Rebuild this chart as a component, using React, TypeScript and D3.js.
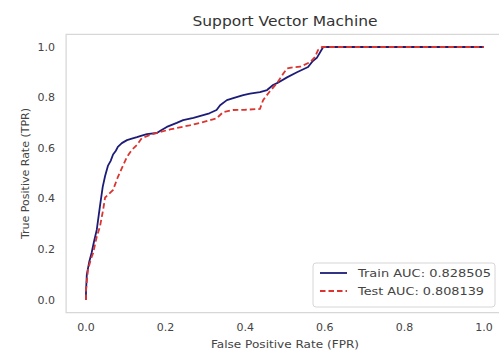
import * as d3 from 'd3'

const title = 'Support Vector Machine'
const xLabel = 'False Positive Rate (FPR)'
const yLabel = 'True Positive Rate (TPR)'
const ticks = [0, 0.2, 0.4, 0.6, 0.8, 1.0]

// [fpr, tpr]
const trainRoc: [number, number][] = [
  [0, 0], [0, 0.03], [0.002, 0.1], [0.008, 0.15], [0.014, 0.186], [0.02, 0.23], [0.027, 0.277],
  [0.035, 0.37], [0.042, 0.447], [0.048, 0.49], [0.055, 0.53], [0.062, 0.55], [0.068, 0.575],
  [0.075, 0.59], [0.08, 0.605], [0.09, 0.62], [0.103, 0.632], [0.115, 0.638], [0.128, 0.644],
  [0.14, 0.65], [0.153, 0.656], [0.178, 0.66], [0.19, 0.672], [0.203, 0.684], [0.228, 0.7],
  [0.244, 0.711], [0.27, 0.72], [0.31, 0.738], [0.328, 0.751], [0.337, 0.77], [0.354, 0.79],
  [0.37, 0.798], [0.395, 0.81], [0.412, 0.816], [0.437, 0.822], [0.455, 0.83], [0.47, 0.85],
  [0.48, 0.857], [0.505, 0.88], [0.53, 0.9], [0.558, 0.921], [0.57, 0.945], [0.58, 0.957],
  [0.596, 1.0], [1.0, 1.0],
]
const testRoc: [number, number][] = [
  [0, 0], [0, 0.04], [0.005, 0.12], [0.012, 0.16], [0.018, 0.186], [0.027, 0.25], [0.035, 0.29],
  [0.043, 0.356], [0.048, 0.405], [0.058, 0.42], [0.068, 0.435], [0.08, 0.486], [0.094, 0.535],
  [0.103, 0.566], [0.115, 0.593], [0.128, 0.613], [0.14, 0.64], [0.16, 0.652], [0.186, 0.664],
  [0.211, 0.674], [0.228, 0.68], [0.26, 0.69], [0.286, 0.7], [0.328, 0.718], [0.345, 0.743],
  [0.37, 0.751], [0.4, 0.752], [0.437, 0.755], [0.445, 0.79], [0.462, 0.825], [0.48, 0.857],
  [0.495, 0.893], [0.505, 0.915], [0.52, 0.92], [0.538, 0.922], [0.563, 0.94], [0.575, 0.96],
  [0.583, 0.988], [0.593, 1.0], [1.0, 1.0],
]
const legendLabels = ['Train AUC: 0.828505', 'Test AUC: 0.808139']

const W = 499
const H = 354
const font = 'DejaVu Sans, sans-serif'
const textColor = '#444'
const trainColor = '#1c1c78'
const testColor = '#dc3530'

const App = () => {
  const x = d3.scaleLinear().domain([0, 1]).range([86, 484])
  const y = d3.scaleLinear().domain([0, 1]).range([300, 47])
  const line = d3.line<[number, number]>().x(d => x(d[0])).y(d => y(d[1]))

  const fx0 = x(-0.05), fx1 = x(1.05)
  const fy0 = y(1.05), fy1 = y(-0.05)
  const cx = (fx0 + fx1) / 2

  // legend box
  const lx = 313, ly = 263, lw = 182, lh = 44

  return (
    <svg width={W} height={H} style={{ position: 'absolute', left: 0, top: 0, background: '#fff' }} fontFamily={font}>
      <rect x={fx0} y={fy0} width={fx1 - fx0} height={fy1 - fy0} fill="#fff" stroke="#d6d6d6" strokeWidth={1.2} />

      <path d={line(trainRoc) ?? ''} fill="none" stroke={trainColor} strokeWidth={1.8} strokeLinejoin="round" />
      <path d={line(testRoc) ?? ''} fill="none" stroke={testColor} strokeWidth={1.8} strokeDasharray="5.5,3" />

      {ticks.map(t => (
        <text key={`x${t}`} x={x(t)} y={331} textAnchor="middle" fontSize={11} fill={textColor}>{t.toFixed(1)}</text>
      ))}
      {ticks.map(t => (
        <text key={`y${t}`} x={55} y={y(t)} textAnchor="end" dominantBaseline="central" fontSize={11} fill={textColor}>{t.toFixed(1)}</text>
      ))}

      <text x={cx} y={26} textAnchor="middle" fontSize={14} fill="#333" textLength={185} lengthAdjust="spacingAndGlyphs">{title}</text>
      <text x={cx} y={348} textAnchor="middle" fontSize={11} fill={textColor} textLength={148} lengthAdjust="spacingAndGlyphs">{xLabel}</text>
      <text transform={`translate(29,${(fy0 + fy1) / 2}) rotate(-90)`} textAnchor="middle" fontSize={11} fill={textColor}>{yLabel}</text>

      <g>
        <rect x={lx} y={ly} width={lw} height={lh} rx={3} fill="#fff" fillOpacity={0.8} stroke="#d6d6d6" />
        <line x1={320} x2={347} y1={ly + 10} y2={ly + 10} stroke={trainColor} strokeWidth={1.8} />
        <line x1={320} x2={347} y1={ly + 28} y2={ly + 28} stroke={testColor} strokeWidth={1.8} strokeDasharray="5.5,3" />
        <text x={358} y={ly + 10} dominantBaseline="central" fontSize={11} fill={textColor} textLength={133} lengthAdjust="spacingAndGlyphs">{legendLabels[0]}</text>
        <text x={358} y={ly + 28} dominantBaseline="central" fontSize={11} fill={textColor} textLength={126} lengthAdjust="spacingAndGlyphs">{legendLabels[1]}</text>
      </g>
    </svg>
  )
}

export default App
